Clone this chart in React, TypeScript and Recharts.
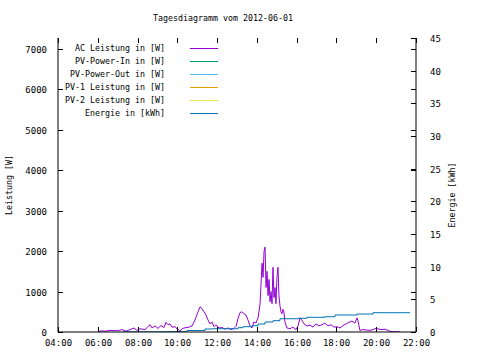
import { LineChart, Line, XAxis, YAxis } from "recharts";

// AC Leistung (hours, W)
const acHours = [
  6.06, 6.16, 6.36, 6.61, 7.02, 7.22, 7.42, 7.62, 7.82, 7.97, 8.12, 8.37, 8.52, 8.63, 8.73, 8.88,
  9.03, 9.18, 9.33, 9.43, 9.53, 9.63, 9.73, 9.88, 10.03, 10.13, 10.28, 10.44, 10.59, 10.74, 10.89,
  11.04, 11.14, 11.24, 11.34, 11.44, 11.54, 11.64, 11.74, 11.84, 11.94, 12.09, 12.25, 12.4, 12.55,
  12.7, 12.85, 12.95, 13.05, 13.15, 13.25, 13.35, 13.45, 13.55, 13.65, 13.75, 13.85, 13.95, 14.06,
  14.16, 14.26, 14.31, 14.36, 14.41, 14.46, 14.51, 14.56, 14.61, 14.66, 14.71, 14.76, 14.81, 14.86,
  14.91, 14.96, 15.01, 15.06, 15.11, 15.16, 15.21, 15.26, 15.31, 15.36, 15.41, 15.51, 15.66, 15.81,
  15.97, 16.07, 16.17, 16.27, 16.37, 16.52, 16.67, 16.82, 16.97, 17.12, 17.27, 17.42, 17.57, 17.73,
  17.88, 18.03, 18.18, 18.33, 18.48, 18.63, 18.78, 18.93, 19.03, 19.08, 19.18, 19.33, 19.49, 19.69,
  19.84, 19.99, 20.14, 20.29, 20.44, 20.59, 20.74, 20.94, 21.19,
];
const acWatts = [
  10, 30, 20, 40, 30, 60, 20, 60, 100, 40, 80, 60, 130, 180, 100, 150,
  90, 160, 110, 240, 180, 200, 120, 130, 60, 30, 90, 110, 120, 150, 300,
  500, 620, 580, 500, 420, 300, 200, 250, 130, 180, 100, 110, 70, 100,
  60, 90, 140, 330, 480, 500, 450, 420, 300, 150, 100, 250, 220, 350,
  700, 1700, 1350, 2000, 2100, 1100, 1500, 900, 1300, 750, 1000, 700, 1600, 850,
  1100, 700, 1350, 1600, 900, 650, 500, 450, 560, 500, 250, 100, 80, 120,
  60, 150, 350, 280, 200, 150, 170, 120, 200, 150, 180, 220, 150, 180,
  120, 130, 100, 160, 200, 240, 270, 220, 350, 280, 40, 60, 50, 40,
  60, 90, 70, 60, 70, 40, 10, 5, 5,
];

// Energie (hours, kWh)
const energyHours = [
  7.25, 9.48, 10.49, 11.39, 11.79, 13.05, 13.3, 13.75, 14.06, 14.41, 14.81, 15.16,
  16.07, 16.52, 17.42, 17.93, 19.03, 19.84, 21.7,
];
const energyKwh = [
  0.02, 0.05, 0.23, 0.46, 0.5, 0.66, 0.81, 0.96, 1.22, 1.53, 1.73, 2.03,
  2.1, 2.25, 2.34, 2.6, 2.75, 2.95, 2.95,
];

const xTicks = [4, 6, 8, 10, 12, 14, 16, 18, 20, 22];
const leftTicks = [0, 1000, 2000, 3000, 4000, 5000, 6000, 7000];
const rightTicks = [0, 5, 10, 15, 20, 25, 30, 35, 40, 45];

const seriesNames = [
  "AC Leistung in [W]",
  "PV-Power-In in [W]",
  "PV-Power-Out in [W]",
  "PV-1 Leistung in [W]",
  "PV-2 Leistung in [W]",
  "Energie in [kWh]",
];
const seriesColors = ["#9400d3", "#009e73", "#56b4e9", "#e69f00", "#f0e442", "#0072b2"];

const acData = acHours.map((h, i) => ({ t: h, ac: acWatts[i] }));
const energyData = energyHours.map((h, i) => ({ t: h, e: energyKwh[i] }));

const LEFT = 58;
const RIGHT = 416;
const TOP = 38;
const BOTTOM = 332;
const FONT = "'DejaVu Sans Mono', monospace";

const fmtHour = (h: number) => `${String(h).padStart(2, "0")}:00`;

const XTick = (props: any) => {
  const x = Math.round(props.x) + 0.5;
  return (
    <g>
      <line x1={x} x2={x} y1={BOTTOM} y2={BOTTOM - 5} stroke="#000" shapeRendering="crispEdges" />
      <line x1={x} x2={x} y1={TOP} y2={TOP + 5} stroke="#000" shapeRendering="crispEdges" />
      <text x={x} y={346} textAnchor="middle" fontFamily={FONT} fontSize={9} fill="#000">
        {fmtHour(props.payload.value)}
      </text>
    </g>
  );
};

const LeftTick = (props: any) => {
  const y = Math.round(props.y) + 0.5;
  return (
    <g>
      <line x1={LEFT} x2={LEFT + 5} y1={y} y2={y} stroke="#000" shapeRendering="crispEdges" />
      <line x1={RIGHT} x2={RIGHT - 5} y1={y} y2={y} stroke="#000" shapeRendering="crispEdges" />
      <text x={47} y={y + 3} textAnchor="end" fontFamily={FONT} fontSize={9} fill="#000">
        {props.payload.value}
      </text>
    </g>
  );
};

const RightTick = (props: any) => {
  const y = Math.round(props.y) + 0.5;
  return (
    <g>
      <line x1={RIGHT} x2={RIGHT - 5} y1={y} y2={y} stroke="#000" shapeRendering="crispEdges" />
      <text x={430} y={y + 3} textAnchor="start" fontFamily={FONT} fontSize={9} fill="#000">
        {props.payload.value}
      </text>
    </g>
  );
};

export default function App() {
  return (
    <div style={{ position: "absolute", left: 0, top: 0, background: "#fff" }}>
      <LineChart width={480} height={360} margin={{ top: TOP, right: 0, bottom: 0, left: 0 }}>
        <XAxis
          xAxisId="bottom"
          dataKey="t"
          type="number"
          domain={[4, 22]}
          ticks={xTicks}
          interval={0}
          height={28}
          tickSize={0}
          tick={<XTick />}
          axisLine={{ stroke: "#000" }}
          allowDataOverflow
        />
        <XAxis
          xAxisId="top"
          orientation="top"
          dataKey="t"
          type="number"
          domain={[4, 22]}
          height={0}
          tick={false}
          tickLine={false}
          axisLine={{ stroke: "#000" }}
        />
        <YAxis
          yAxisId="left"
          domain={[0, 7272]}
          ticks={leftTicks}
          interval={0}
          width={LEFT}
          tickSize={0}
          tick={<LeftTick />}
          axisLine={{ stroke: "#000" }}
          allowDataOverflow
        />
        <YAxis
          yAxisId="right"
          orientation="right"
          domain={[0, 45]}
          ticks={rightTicks}
          interval={0}
          width={480 - RIGHT}
          tickSize={0}
          tick={<RightTick />}
          axisLine={{ stroke: "#000" }}
          allowDataOverflow
        />
        <Line
          xAxisId="bottom"
          yAxisId="left"
          data={acData}
          dataKey="ac"
          name={seriesNames[0]}
          stroke={seriesColors[0]}
          strokeWidth={1}
          dot={false}
          isAnimationActive={false}
          type="linear"
        />
        <Line
          xAxisId="bottom"
          yAxisId="right"
          data={energyData}
          dataKey="e"
          name={seriesNames[5]}
          stroke={seriesColors[5]}
          strokeWidth={1}
          dot={false}
          isAnimationActive={false}
          type="stepAfter"
        />
        {seriesNames.map((name, i) => (
          <g key={name}>
            <text x={165} y={51 + i * 13} textAnchor="end" fontFamily={FONT} fontSize={8.3} fill="#000">
              {name}
            </text>
            <line
              x1={190}
              x2={218}
              y1={48.5 + i * 13}
              y2={48.5 + i * 13}
              stroke={seriesColors[i]}
              shapeRendering="crispEdges"
            />
          </g>
        ))}
        <text x={223} y={21} textAnchor="middle" fontFamily={FONT} fontSize={8.3} fill="#000">
          Tagesdiagramm vom 2012-06-01
        </text>
        <text
          x={12}
          y={185}
          transform="rotate(-90 12 185)"
          textAnchor="middle"
          fontFamily={FONT}
          fontSize={8.3}
          fill="#000"
        >
          Leistung [W]
        </text>
        <text
          x={455}
          y={195}
          transform="rotate(-90 455 195)"
          textAnchor="middle"
          fontFamily={FONT}
          fontSize={8.3}
          fill="#000"
        >
          Energie [kWh]
        </text>
      </LineChart>
    </div>
  );
}
